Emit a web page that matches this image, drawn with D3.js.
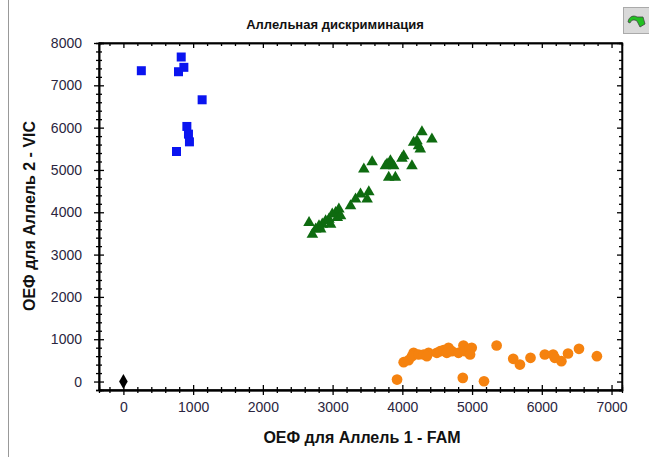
<!DOCTYPE html>
<html>
<head>
<meta charset="utf-8">
<script src="https://cdn.jsdelivr.net/npm/d3@7"></script>
<style>
  body { margin: 0; background: #fff; }
  svg { display: block; font-family: "Liberation Sans", Arial, sans-serif; }
</style>
</head>
<body>
<div class="canvas"></div>
<script>
// Data
const title = 'Аллельная дискриминация',
    xLabel = 'ОЕФ для Аллель 1 - FAM',
    yLabel = 'ОЕФ для Аллель 2 - VIC';

const xTicks = [0, 1000, 2000, 3000, 4000, 5000, 6000, 7000],
    yTicks = [0, 1000, 2000, 3000, 4000, 5000, 6000, 7000, 8000];

// Allele 2 (VIC) - blue squares
const vicX = [257, 829, 867, 790, 1129, 910, 933, 947, 761],
    vicY = [7345, 7669, 7425, 7321, 6658, 6028, 5846, 5664, 5436];

// Heterozygous - green triangles
const hetX = [4281, 4424, 4162, 4210, 4233, 4257, 4019, 3995, 4138, 3829, 3852, 3781, 3757, 3876, 3805, 3900,
    3567, 3448, 3519, 3400, 3495, 3329, 3257, 3090, 3043, 2995, 2948, 2900, 2852, 2805, 2757, 2710, 2662,
    3067, 2971, 2829, 3114],
    hetY = [5901, 5728, 5649, 5688, 5570, 5491, 5333, 5270, 5096, 5215, 5136, 5136, 5096, 5096, 4821, 4821,
    5191, 5018, 4481, 4426, 4308, 4308, 4150, 4071, 3993, 3953, 3834, 3795, 3716, 3676, 3598, 3479, 3755,
    3874, 3716, 3598, 3913];

// Allele 1 (FAM) - orange circles
const famX = [3924, 4019, 4090, 4162, 4138, 4233, 4305, 4376, 4352, 4495, 4543, 4590, 4662, 4638, 4710, 4805,
    4876, 4900, 4962, 4995, 4971, 4867, 5171, 5352, 5590, 5686, 5838, 6043, 6162, 6186, 6281, 6376, 6533, 6790],
    famY = [47, 457, 504, 679, 599, 639, 639, 679, 599, 679, 717, 741, 797, 679, 717, 679,
    852, 717, 774, 797, 639, 87, 7, 852, 537, 402, 560, 639, 639, 560, 481, 663, 774, 599];

// No template control
const ntcX = [0],
    ntcY = [0];

const series = [
    { x: vicX, y: vicY, symbol: d3.symbolSquare, size: 81, fill: '#0a14f0' },
    { x: hetX, y: hetY, symbol: d3.symbolTriangle, size: 58, fill: '#0e6b10' },
    { x: famX, y: famY, symbol: d3.symbolCircle, size: 90, fill: '#f5820f' },
    { x: ntcX, y: ntcY, symbol: d3.symbolDiamond, size: 64, fill: '#000' }
];

const width = 649, height = 457;
const padL = 99, padR = 622, padT = 43, padB = 390;

const svg = d3.select('.canvas')
    .append('svg')
    .attr('width', width)
    .attr('height', height);

// panel border on the left
svg.append('line')
    .attr('x1', 8.5).attr('x2', 8.5)
    .attr('y1', 0).attr('y2', height)
    .attr('stroke', '#999');

// corner icon
const icon = svg.append('g').attr('transform', 'translate(623, 7)');
icon.append('rect')
    .attr('x', 0.5).attr('y', 0.5)
    .attr('width', 26).attr('height', 26)
    .attr('fill', '#d9d9d9')
    .attr('stroke', '#aaa');
icon.append('path')
    .attr('d', 'M5,15 C6,9 11,8 14,10 L20,10 L22,17 L17,20 L14,14 C11,12 8,13 7,16 Z')
    .attr('fill', '#22c022')
    .attr('stroke', '#444')
    .attr('stroke-width', 0.8);

const x = d3.scaleLinear().domain([-350, 7150]).range([padL, padR]);
const y = d3.scaleLinear().domain([-200, 8000]).range([padB, padT]);
const fmt = d3.format('d');

const xMinor = d3.range(-200, 7101, 200).filter(v => v % 1000 !== 0),
    yMinor = d3.range(-200, 8001, 200).filter(v => v % 1000 !== 0);

// bottom axis: labels + ticks crossing the line
svg.append('g')
    .attr('transform', `translate(0, ${padB})`)
    .call(d3.axisBottom(x).tickValues(xTicks).tickFormat(fmt).tickSize(5).tickSizeOuter(0).tickPadding(7))
    .call(g => g.append('g').call(d3.axisTop(x).tickValues(xTicks).tickSize(5).tickFormat('')))
    .call(g => g.append('g').call(d3.axisBottom(x).tickValues(xMinor).tickSize(3).tickFormat('')))
    .call(g => g.append('g').call(d3.axisTop(x).tickValues(xMinor).tickSize(3).tickFormat('')))
    .attr('class', 'axis');

// left axis
svg.append('g')
    .attr('transform', `translate(${padL}, 0)`)
    .call(d3.axisLeft(y).tickValues(yTicks).tickFormat(fmt).tickSize(5).tickSizeOuter(0).tickPadding(12))
    .call(g => g.append('g').call(d3.axisRight(y).tickValues(yTicks).tickSize(5).tickFormat('')))
    .call(g => g.append('g').call(d3.axisLeft(y).tickValues(yMinor).tickSize(3).tickFormat('')))
    .call(g => g.append('g').call(d3.axisRight(y).tickValues(yMinor).tickSize(3).tickFormat('')))
    .attr('class', 'axis');

// top and right frame, ticks inward
svg.append('g')
    .attr('transform', `translate(0, ${padT})`)
    .call(d3.axisBottom(x).tickValues(xTicks).tickSize(5).tickSizeOuter(0).tickFormat(''))
    .call(g => g.append('g').call(d3.axisBottom(x).tickValues(xMinor).tickSize(3).tickFormat('')))
    .attr('class', 'axis');
svg.append('g')
    .attr('transform', `translate(${padR}, 0)`)
    .call(d3.axisLeft(y).tickValues(yTicks).tickSize(5).tickSizeOuter(0).tickFormat(''))
    .call(g => g.append('g').call(d3.axisLeft(y).tickValues(yMinor).tickSize(3).tickFormat('')))
    .attr('class', 'axis');

svg.selectAll('.axis path.domain').attr('stroke', '#000').attr('stroke-width', 1.3);
svg.selectAll('.axis line').attr('stroke', '#000').attr('stroke-width', 1.3);
svg.selectAll('.axis text')
    .attr('fill', '#2a2540')
    .style('font-size', '14px');

// full frame lines
svg.append('rect')
    .attr('x', padL).attr('y', padT)
    .attr('width', padR - padL).attr('height', padB - padT)
    .attr('fill', 'none')
    .attr('stroke', '#000')
    .attr('stroke-width', 1.3);

// points
series.forEach(s => {
    svg.append('g')
        .selectAll('path')
        .data(d3.zip(s.x, s.y))
        .enter()
        .append('path')
        .attr('transform', d => `translate(${x(d[0])}, ${y(d[1])})`)
        .attr('d', d3.symbol().type(s.symbol).size(s.size))
        .attr('fill', s.fill);
});

// titles
svg.append('text')
    .attr('x', 335).attr('y', 29)
    .attr('text-anchor', 'middle')
    .style('font-size', '13px')
    .style('font-weight', 'bold')
    .attr('fill', '#111')
    .text(title);

svg.append('text')
    .attr('x', 362).attr('y', 443)
    .attr('text-anchor', 'middle')
    .style('font-size', '16px')
    .style('font-weight', 'bold')
    .attr('fill', '#111')
    .text(xLabel);

svg.append('text')
    .attr('transform', `translate(35, 216) rotate(-90)`)
    .attr('text-anchor', 'middle')
    .style('font-size', '16px')
    .style('font-weight', 'bold')
    .attr('fill', '#111')
    .text(yLabel);
</script>
</body>
</html>
